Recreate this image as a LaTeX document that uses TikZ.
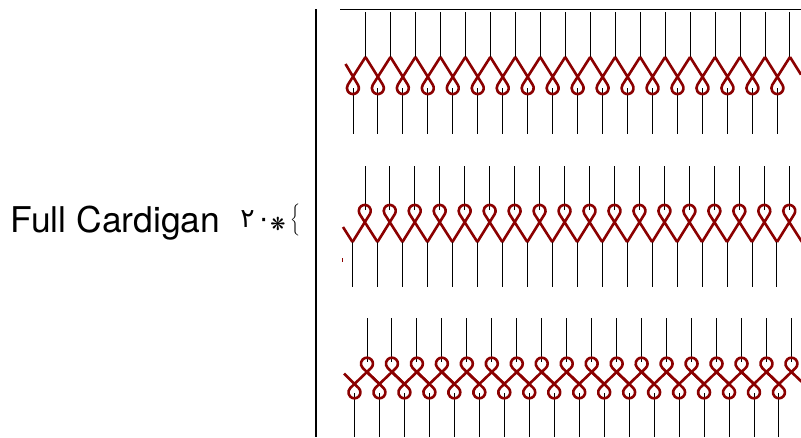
\documentclass[tikz,border=0pt]{standalone}
\usepackage{fontspec}
\setmainfont{TeX Gyre Heros}
\newfontfamily\arabfont[Script=Arabic]{DejaVu Sans}
\newfontfamily\symfont{DejaVu Sans}
\tikzset{
  needle/.style={black,line width=0.75pt},
  yarn/.style={draw=yarnred,line width=1.95pt,line join=round},
  rulebar/.style={black,line width=1.5pt},
  topbar/.style={black,line width=0.8pt},
}
\definecolor{yarnred}{HTML}{8B0000}
\begin{document}
\begin{tikzpicture}[x=0.75pt,y=-0.75pt]
\useasboundingbox (0,0) rectangle (801,437);
\clip (0,0) rectangle (801,437);
\node[anchor=base west,inner sep=0pt,font=\fontsize{26.6}{30}\selectfont] (title) at (10.5,232) {Full Cardigan};
\node[anchor=base west,inner sep=0pt,font=\arabfont\fontsize{20}{24}\selectfont] (num) at (240,227) {\char"0662\kern1.5pt\char"0660};
\node[anchor=base west,inner sep=0pt,font=\symfont\fontsize{13.5}{16}\selectfont] (star) at (270,230) {❋};
\node[inner sep=0pt] (brace) at (295.5,220) {$\bigg\{$};
\draw[rulebar] (316,9) -- (316,437);
\draw[topbar] (340,9.5) -- (801,9.5);
% row 1
\foreach \k in {0,...,17}{
  \pgfmathsetmacro{\cx}{353+24.97*\k}
  \pgfmathsetmacro{\ux}{365.5+24.97*\k}
  \pgfmathsetmacro{\sx}{\k==0 ? 345.5 : \cx-12.5}
  \pgfmathsetmacro{\sy}{\k==0 ? 64 : 57}
  \draw[needle] (\ux,12) -- (\ux,57);
  \draw[needle] (\cx,88) -- (\cx,134);
  \draw[yarn] (\sx,\sy) -- (\cx+4.9,84.8)
     arc[start angle=-33,end angle=213,radius=6]
     -- (\cx+12.5,57);
}
\draw[yarn] (790,57) -- (801,74.6);
% row 2
\foreach \k in {0,...,17}{
  \pgfmathsetmacro{\cx}{365+24.97*\k}
  \pgfmathsetmacro{\lx}{352.5+24.97*\k}
  \draw[needle] (\cx,166) -- (\cx,210);
  \draw[needle] (\lx,242) -- (\lx,287);
  \draw[yarn] (\cx-12.5,242) -- (\cx+4.9,214)
     arc[start angle=31,end angle=-211,radius=6]
     -- (\cx+12.5,242);
}
\draw[yarn] (343,227) -- (352.5,242);
\fill[yarnred] (341.6,258) rectangle (342.8,261.5);
% row 3
\foreach \k in {0,...,17}{
  \pgfmathsetmacro{\ux}{367+24.97*\k}
  \pgfmathsetmacro{\lx}{354.5+24.97*\k}
  \pgfmathsetmacro{\sx}{\k==0 ? 344 : \lx-12.5}
  \pgfmathsetmacro{\sy}{\k==0 ? 373.5 : 372}
  \draw[needle] (\ux,318) -- (\ux,362);
  \draw[needle] (\lx,393) -- (\lx,437);
  \draw[yarn] (\sx,\sy) -- (\lx+4.1,388)
     arc[start angle=-46,end angle=226,radius=6]
     -- (\ux+4.1,368)
     arc[start angle=46,end angle=-226,radius=6]
     -- (\ux+12.5,384);
}
\end{tikzpicture}
\end{document}
